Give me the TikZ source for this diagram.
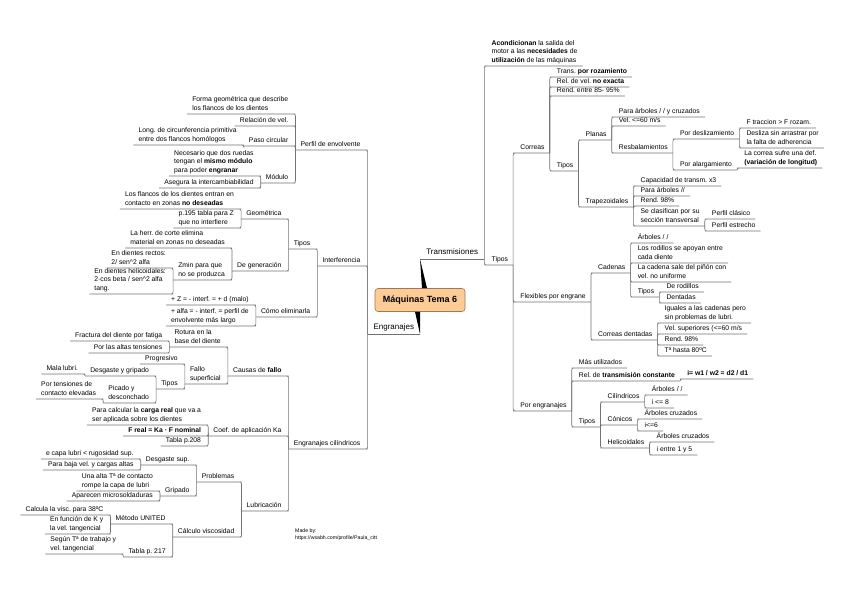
\documentclass[tikz,border=0pt]{standalone}
\usepackage{fontspec}
\setmainfont{Liberation Sans}
\usepackage{tikz}
\usetikzlibrary{positioning}
\definecolor{rootfill}{HTML}{FCCB96}
\definecolor{rootline}{HTML}{9C7A55}
\frenchspacing
\tikzset{
  topic/.style={font=\fontsize{6.8}{8.4}\selectfont, inner xsep=5pt, inner ysep=1pt,
    align=left, execute at end node=\strut},
  lefttopic/.style={topic, anchor=south east, xshift=-2pt},
  righttopic/.style={topic, anchor=south west, xshift=2pt},
  branch/.style={font=\fontsize{8}{10}\selectfont, inner xsep=1pt, inner ysep=1pt,
    execute at end node=\strut},
  root/.style={draw=rootline, fill=rootfill, line width=0.6pt, rounded corners=3pt,
    font=\bfseries\fontsize{9}{11}\selectfont, minimum width=90pt, minimum height=23pt},
  link/.style={draw=black!55, line width=0.6pt, rounded corners=2pt},
  credit/.style={font=\fontsize{5.2}{7}\selectfont, align=left, inner sep=0pt}
}

\begin{document}
\begin{tikzpicture}[x=1pt, y=-1pt]
  \useasboundingbox[fill=white] (0,0) rectangle (848,599);

  % central topic and main branches
  \node[root] (root) at (420,300) {Máquinas Tema 6};
  \node[branch, anchor=south west, minimum width=64pt] (trans) at (420,259) {Transmisiones};
  \node[branch, anchor=south east, minimum width=52pt] (eng) at (420,334) {Engranajes};

  % Engranajes: perfil de envolvente
  \node[lefttopic] (perfil) at (eng.south west |- 0,150) {Perfil de envolvente};
  \node[lefttopic] (forma) at (perfil.south west |- 0,114) {Forma geométrica que describe\\los flancos de los dientes};
  \node[lefttopic] (relvel) at (perfil.south west |- 0,126) {Relación de vel.};
  \node[lefttopic] (paso) at (perfil.south west |- 0,146) {Paso circular};
  \node[lefttopic] (long) at (paso.south west |- 0,145) {Long. de circunferencia primitiva\\entre dos flancos homólogos};
  \node[lefttopic] (modulo) at (perfil.south west |- 0,183) {Módulo};
  \node[lefttopic] (necesario) at (modulo.south west |- 0,176) {Necesario que dos ruedas\\tengan el \textbf{mismo módulo}\\para poder \textbf{engranar}};
  \node[lefttopic] (asegura) at (modulo.south west |- 0,188) {Asegura la intercambiabilidad};

  % Engranajes: interferencia
  \node[lefttopic] (interf) at (eng.south west |- 0,266) {Interferencia};
  \node[lefttopic] (tiposi) at (interf.south west |- 0,249) {Tipos};
  \node[lefttopic] (geom) at (tiposi.south west |- 0,219) {Geométrica};
  \node[lefttopic] (flancos) at (geom.south west |- 0,209) {Los flancos de los dientes entran en\\contacto en zonas \textbf{no deseadas}};
  \node[lefttopic] (p195) at (geom.south west |- 0,228) {p.195 tabla para Z\\que no interfiere};
  \node[lefttopic] (degen) at (tiposi.south west |- 0,271) {De generación};
  \node[lefttopic] (herr) at (degen.south west |- 0,248) {La herr. de corte elimina\\material en zonas no deseadas};
  \node[lefttopic] (zmin) at (degen.south west |- 0,280) {Zmin para que\\no se produzca};
  \node[lefttopic] (rectos) at (zmin.south west |- 0,268) {En dientes rectos:\\2/ sen\textasciicircum 2 alfa};
  \node[lefttopic] (helic) at (zmin.south west |- 0,294) {En dientes helicoidales:\\2·cos beta / sen\textasciicircum 2 alfa\\tang.};
  \node[lefttopic] (elim) at (interf.south west |- 0,317) {Cómo eliminarla};
  \node[lefttopic] (masz) at (elim.south west |- 0,305) {+ Z = - interf. = + d (malo)};
  \node[lefttopic] (masalfa) at (elim.south west |- 0,326) {+ alfa = - interf. = perfil de\\envolvente más largo};

  % Engranajes: cilindricos
  \node[lefttopic] (cilin) at (eng.south west |- 0,449) {Engranajes cilíndricos};
  \node[lefttopic] (causas) at (cilin.south west |- 0,376) {Causas de \textbf{fallo}};
  \node[lefttopic] (rotura) at (causas.south west |- 0,347) {Rotura en la\\base del diente};
  \node[lefttopic] (fractura) at (rotura.south west |- 0,341) {Fractura del diente por fatiga};
  \node[lefttopic] (altas) at (rotura.south west |- 0,353) {Por las altas tensiones};
  \node[lefttopic] (fallosup) at (causas.south west |- 0,384) {Fallo\\superficial};
  \node[lefttopic] (progresivo) at (fallosup.south west |- 0,364) {Progresivo};
  \node[lefttopic] (tiposf) at (fallosup.south west |- 0,389) {Tipos};
  \node[lefttopic] (desgaste) at (tiposf.south west |- 0,376) {Desgaste y gripado};
  \node[lefttopic] (mala) at (desgaste.south west |- 0,374) {Mala lubri.};
  \node[lefttopic] (picado) at (tiposf.south west |- 0,403) {Picado y\\desconchado};
  \node[lefttopic] (tensiones) at (picado.south west |- 0,399) {Por tensiones de\\contacto elevadas};
  \node[lefttopic] (coef) at (cilin.south west |- 0,436) {Coef. de aplicación Ka};
  \node[lefttopic] (calcular) at (coef.south west |- 0,425) {Para calcular la \textbf{carga real} que va a\\ser aplicada sobre los dientes};
  \node[lefttopic] (freal) at (coef.south west |- 0,436) {\textbf{F real = Ka · F nominal}};
  \node[lefttopic] (tabla208) at (coef.south west |- 0,446) {Tabla p.208};
  \node[lefttopic] (lubric) at (cilin.south west |- 0,511) {Lubricación};
  \node[lefttopic] (problemas) at (lubric.south west |- 0,482) {Problemas};
  \node[lefttopic] (dsup) at (problemas.south west |- 0,465) {Desgaste sup.};
  \node[lefttopic] (ecapa) at (dsup.south west |- 0,459) {e capa lubri < rugosidad sup.};
  \node[lefttopic] (bajavel) at (dsup.south west |- 0,470) {Para baja vel. y cargas altas};
  \node[lefttopic] (gripado) at (problemas.south west |- 0,496) {Gripado};
  \node[lefttopic] (altat) at (gripado.south west |- 0,491) {Una alta Tª de contacto\\rompe la capa de lubri};
  \node[lefttopic] (micro) at (gripado.south west |- 0,501) {Aparecen microsoldaduras};
  \node[lefttopic] (visc) at (lubric.south west |- 0,537) {Cálculo viscosidad};
  \node[lefttopic] (united) at (visc.south west |- 0,524) {Método UNITED};
  \node[lefttopic] (calcula) at (united.south west |- 0,515) {Calcula la visc. para 38ºC};
  \node[lefttopic] (funcion) at (united.south west |- 0,534) {En función de K y\\la vel. tangencial};
  \node[lefttopic] (tabla217) at (visc.south west |- 0,557) {Tabla p. 217};
  \node[lefttopic] (segun) at (tabla217.south west |- 0,554) {Según Tª de trabajo y\\vel. tangencial};

  % Transmisiones
  \node[righttopic] (acond) at (trans.south east |- 0,66) {\textbf{Acondicionan} la salida del\\motor a las \textbf{necesidades} de\\\textbf{utilización} de las máquinas};
  \node[righttopic] (tipost) at (trans.south east |- 0,265) {Tipos};

  % Transmisiones: correas
  \node[righttopic] (correas) at (tipost.south east |- 0,153) {Correas};
  \node[righttopic] (rozam) at (correas.south east |- 0,77) {Trans. \textbf{por rozamiento}};
  \node[righttopic] (relvelc) at (correas.south east |- 0,87) {Rel. de vel. \textbf{no exacta}};
  \node[righttopic] (rend85) at (correas.south east |- 0,96) {Rend. entre 85- 95\%};
  \node[righttopic] (tiposc) at (correas.south east |- 0,171) {Tipos};
  \node[righttopic] (planas) at (tiposc.south east |- 0,140) {Planas};
  \node[righttopic] (paraarb) at (planas.south east |- 0,117) {Para árboles / / y cruzados};
  \node[righttopic] (vel60) at (planas.south east |- 0,126) {Vel. <=60 m/s};
  \node[righttopic] (resbal) at (planas.south east |- 0,153) {Resbalamientos};
  \node[righttopic] (desliz) at (resbal.south east |- 0,139) {Por deslizamiento};
  \node[righttopic] (ftrac) at (desliz.south east |- 0,128) {F traccion > F rozam.};
  \node[righttopic] (desliza) at (desliz.south east |- 0,148) {Desliza sin arrastrar por\\la falta de adherencia};
  \node[righttopic] (alarg) at (resbal.south east |- 0,170) {Por alargamiento};
  \node[righttopic] (sufre) at (alarg.south east |- 0,168) {La correa sufre una def.\\\textbf{(variación de longitud)}};
  \node[righttopic] (trapez) at (tiposc.south east |- 0,207) {Trapezoidales};
  \node[righttopic] (capac) at (trapez.south east |- 0,186) {Capacidad de transm. x3};
  \node[righttopic] (paraarb2) at (trapez.south east |- 0,196) {Para árboles //};
  \node[righttopic] (rend98) at (trapez.south east |- 0,206) {Rend. 98\%};
  \node[righttopic] (clasif) at (trapez.south east |- 0,226) {Se clasifican por su\\sección transversal};
  \node[righttopic] (clasico) at (clasif.south east |- 0,219) {Perfil clásico};
  \node[righttopic] (estrecho) at (clasif.south east |- 0,231) {Perfil estrecho};

  % Transmisiones: flexibles por engrane
  \node[righttopic] (flex) at (tipost.south east |- 0,302) {Flexibles por engrane};
  \node[righttopic] (cadenas) at (flex.south east |- 0,273) {Cadenas};
  \node[righttopic] (arbc) at (cadenas.south east |- 0,243) {Árboles / /};
  \node[righttopic] (rodillos) at (cadenas.south east |- 0,263) {Los rodillos se apoyan entre\\cada diente};
  \node[righttopic] (sale) at (cadenas.south east |- 0,282) {La cadena sale del piñón con\\vel. no uniforme};
  \node[righttopic] (tiposcad) at (cadenas.south east |- 0,297) {Tipos};
  \node[righttopic] (derod) at (tiposcad.south east |- 0,292) {De rodillos};
  \node[righttopic] (dentadas) at (tiposcad.south east |- 0,303) {Dentadas};
  \node[righttopic] (cdent) at (flex.south east |- 0,340) {Correas dentadas};
  \node[righttopic] (iguales) at (cdent.south east |- 0,323) {Iguales a las cadenas pero\\sin problemas de lubri.};
  \node[righttopic] (velsup) at (cdent.south east |- 0,334) {Vel. superiores (<=60 m/s};
  \node[righttopic] (rend98b) at (cdent.south east |- 0,345) {Rend. 98\%};
  \node[righttopic] (t80) at (cdent.south east |- 0,356) {Tª hasta 80ºC};

  % Transmisiones: por engranajes
  \node[righttopic] (porengr) at (tipost.south east |- 0,411) {Por engranajes};
  \node[righttopic] (masutil) at (porengr.south east |- 0,368) {Más utilizados};
  \node[righttopic] (relconst) at (porengr.south east |- 0,381) {Rel. de \textbf{transmisión constante}};
  \node[righttopic] (formula) at (relconst.south east |- 0,379) {\textbf{i= w1 / w2 = d2 / d1}};
  \node[righttopic] (tipose) at (porengr.south east |- 0,427) {Tipos};
  \node[righttopic] (cilind) at (tipose.south east |- 0,402) {Cilíndricos};
  \node[righttopic] (arbcil) at (cilind.south east |- 0,395) {Árboles / /};
  \node[righttopic] (i8) at (cilind.south east |- 0,408) {i <= 8};
  \node[righttopic] (conicos) at (tipose.south east |- 0,425) {Cónicos};
  \node[righttopic] (arbcon) at (conicos.south east |- 0,419) {Árboles cruzados};
  \node[righttopic] (i6) at (conicos.south east |- 0,431) {i<=6};
  \node[righttopic] (helicoid) at (tipose.south east |- 0,448) {Helicoidales};
  \node[righttopic] (arbhel) at (helicoid.south east |- 0,442) {Árboles cruzados};
  \node[righttopic] (i15) at (helicoid.south east |- 0,455) {i entre 1 y 5};

  \node[credit, anchor=north west] (credit) at (295,529) {Made by:\\https://wsabh.com/profile/Paula\_citt};

  % connectors, left side
  \foreach \p/\c in {eng/perfil, perfil/forma, perfil/relvel, perfil/paso, paso/long,
      perfil/modulo, modulo/necesario, modulo/asegura,
      eng/interf, interf/tiposi, tiposi/geom, geom/flancos, geom/p195, tiposi/degen,
      degen/herr, degen/zmin, zmin/rectos, zmin/helic, interf/elim, elim/masz, elim/masalfa,
      eng/cilin, cilin/causas, causas/rotura, rotura/fractura, rotura/altas,
      causas/fallosup, fallosup/progresivo, fallosup/tiposf, tiposf/desgaste, desgaste/mala,
      tiposf/picado, picado/tensiones, cilin/coef, coef/calcular, coef/freal, coef/tabla208,
      cilin/lubric, lubric/problemas, problemas/dsup, dsup/ecapa, dsup/bajavel,
      problemas/gripado, gripado/altat, gripado/micro, lubric/visc, visc/united,
      united/calcula, united/funcion, visc/tabla217, tabla217/segun}
    \draw[link] (\p.south west) |- (\c.south east) -- (\c.south west);

  % connectors, right side
  \foreach \p/\c in {trans/acond, trans/tipost, tipost/correas, correas/rozam, correas/relvelc,
      correas/rend85, correas/tiposc, tiposc/planas, planas/paraarb, planas/vel60,
      planas/resbal, resbal/desliz, desliz/ftrac, desliz/desliza, resbal/alarg, alarg/sufre,
      tiposc/trapez, trapez/capac, trapez/paraarb2, trapez/rend98, trapez/clasif,
      clasif/clasico, clasif/estrecho, tipost/flex, flex/cadenas, cadenas/arbc,
      cadenas/rodillos, cadenas/sale, cadenas/tiposcad, tiposcad/derod, tiposcad/dentadas,
      flex/cdent, cdent/iguales, cdent/velsup, cdent/rend98b, cdent/t80,
      tipost/porengr, porengr/masutil, porengr/relconst, relconst/formula, porengr/tipose,
      tipose/cilind, cilind/arbcil, cilind/i8, tipose/conicos, conicos/arbcon, conicos/i6,
      tipose/helicoid, helicoid/arbhel, helicoid/i15}
    \draw[link] (\p.south east) |- (\c.south west) -- (\c.south east);

  % main branches
  \draw[link] (trans.south west) -- (trans.south east);
  \draw[link] (eng.south west) -- (eng.south east);
  \fill[black] (trans.south west) -- ([xshift=2pt]root.north) -- ([xshift=7pt]root.north) -- cycle;
  \fill[black] (eng.south east) -- ([xshift=-5pt]root.south) -- ([xshift=0pt]root.south) -- cycle;
\end{tikzpicture}
\end{document}
